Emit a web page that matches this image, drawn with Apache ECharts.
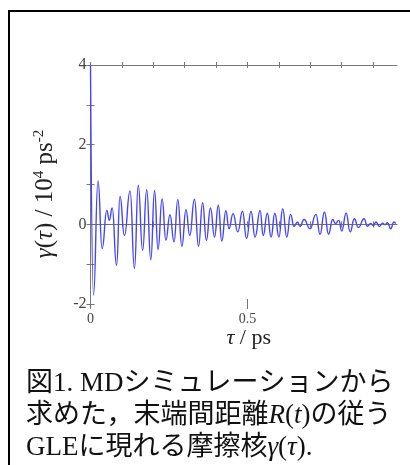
<!DOCTYPE html>
<html><head><meta charset="utf-8">
<script src="https://cdn.jsdelivr.net/npm/echarts@6/dist/echarts.min.js"></script>
<style>html,body{margin:0;padding:0;background:#fff}#c{width:410px;height:465px}</style>
</head><body><div id="c"></div>
<script>
// τ (ps) and γ(τ) (10^4 ps^-2) (extrema)
const tau = [0, 0.0095, 0.024, 0.037, 0.052, 0.06, 0.069, 0.083, 0.094, 0.108, 0.126, 0.14, 0.152, 0.166, 0.179, 0.192, 0.204, 0.215, 0.228, 0.24, 0.253, 0.266, 0.278, 0.291, 0.304, 0.316, 0.331, 0.344, 0.357, 0.369, 0.382, 0.395, 0.407, 0.418, 0.431, 0.441, 0.454, 0.469, 0.484, 0.497, 0.511, 0.524, 0.54, 0.55, 0.563, 0.575, 0.587, 0.6, 0.612, 0.625, 0.637, 0.648, 0.659, 0.667, 0.68, 0.699, 0.718, 0.731, 0.745, 0.758, 0.771, 0.78, 0.791, 0.80, 0.814, 0.827, 0.84, 0.853, 0.871, 0.882, 0.892, 0.901, 0.909, 0.92, 0.93, 0.938, 0.946, 0.956, 0.966, 0.972];
const gamma = [4.0, -1.78, 1.09, -0.61, 0.35, 0.10, 0.41, -1.03, 0.70, -0.28, 0.84, -1.11, 0.98, -0.65, 0.87, -0.89, 0.85, -0.63, 0.64, -0.40, 0.24, -0.44, 0.62, -0.55, 0.37, -0.28, 0.63, -0.55, 0.54, -0.40, 0.41, -0.32, 0.48, -0.42, 0.34, -0.11, 0.27, -0.19, 0.33, -0.36, 0.33, -0.32, 0.35, -0.28, 0.28, -0.32, 0.28, -0.32, 0.39, -0.32, 0.25, -0.05, 0.06, -0.05, 0.12, -0.11, 0.25, -0.25, 0.31, -0.25, 0.12, 0.02, 0.10, -0.17, 0.28, -0.19, 0.14, -0.08, 0.14, -0.05, 0.02, -0.03, 0.06, -0.05, 0.03, -0.01, 0.04, -0.11, 0.06, 0.02];
const xTicks = [0, 0.1, 0.2, 0.3, 0.4, 0.5, 0.6, 0.7, 0.8, 0.9];
const xMajorTicks = [0, 0.5];
const xLabels = [0, 0.5];
const yTicks = [-2, -1, 0, 1, 2, 3, 4];
const yLabels = [-2, 0, 2, 4];
const captionLines = [
  '図1. MDシミュレーションから',
  '求めた，末端間距離{i|R}({i|t})の従う',
  'GLEに現れる摩擦核{i|γ}({i|τ}).'
];

const serif = '"Liberation Serif","DejaVu Serif",serif';
const capFont = '"Liberation Serif","Noto Sans CJK JP",serif';
const axisCol = '#777';
const labCol = '#444';

const chart = echarts.init(document.getElementById('c'), null, {renderer: 'canvas'});
const data = tau.map((t, i) => [t, gamma[i]]);

const xBase = {type: 'value', min: 0, max: 0.976, splitLine: {show: false}};
const yBase = {type: 'value', min: -2, max: 4, interval: 1, splitLine: {show: false}};
const tickX = (pos, inside, len, vals, line) => Object.assign({}, xBase, {
  position: pos,
  axisLine: line ? {lineStyle: {color: axisCol, width: 1}} : {show: false},
  axisTick: {inside: inside, length: len, customValues: vals, lineStyle: {color: axisCol}},
  axisLabel: {show: false}
});

chart.setOption({
  animation: false,
  grid: {left: 90.5, right: 13, top: 65, bottom: 161},
  xAxis: [
    Object.assign({}, xBase, {position: 'bottom',
      axisLine: {lineStyle: {color: axisCol, width: 1}},
      axisTick: {inside: false, length: 3, customValues: xTicks, lineStyle: {color: axisCol}},
      axisLabel: {customValues: xLabels, color: labCol, fontFamily: serif, fontSize: 14, margin: 8},
      name: '{i|τ} / ps', nameLocation: 'middle', nameGap: 23, nameMoveOverlap: false,
      nameTextStyle: {fontFamily: serif, fontSize: 22, color: '#222', padding: [0, 0, 0, 10],
        rich: {i: {fontFamily: serif, fontStyle: 'italic', fontSize: 22, color: '#222'}}}}),
    tickX('bottom', true, 3, xTicks, false),
    tickX('bottom', true, 5, xMajorTicks, false),
    tickX('bottom', false, 5, xMajorTicks, false),
    tickX('top', false, 3, xTicks, true),
    tickX('top', true, 3, xTicks, false)
  ],
  yAxis: [
    Object.assign({}, yBase, {position: 'left',
      axisLine: {lineStyle: {color: axisCol, width: 1}},
      axisTick: {inside: false, length: 4, customValues: yTicks, lineStyle: {color: axisCol}},
      axisLabel: {customValues: yLabels, color: labCol, fontFamily: serif, fontSize: 16, margin: 4}}),
    Object.assign({}, yBase, {position: 'left',
      axisLine: {show: false},
      axisTick: {inside: true, length: 4, customValues: yTicks, lineStyle: {color: axisCol}},
      axisLabel: {show: false}})
  ],
  graphic: [
    {type: 'polyline', shape: {points: [[9, 465], [9, 11], [410, 11]]},
     style: {stroke: '#000', lineWidth: 2, fill: null}, silent: true},
    {type: 'text', x: 45.5, y: 194, rotation: Math.PI / 2, silent: true,
     style: {text: '{i|γ}({i|τ}) / 10{sup|4} ps{sup|-2}', font: '25px ' + serif, fill: '#222',
       align: 'center', verticalAlign: 'middle',
       rich: {i: {fontFamily: serif, fontStyle: 'italic', fontSize: 25, fill: '#222'},
              sup: {fontFamily: serif, fontSize: 15, fill: '#222', padding: [0, 0, 12, 0]}}}},
    ...captionLines.map((s, i) => ({
      type: 'text', left: 26, top: 370 + i * 32, silent: true,
      style: {text: s, font: '27px ' + capFont, fill: '#111',
        rich: {i: {fontFamily: serif, fontStyle: 'italic', fontSize: 27, fill: '#111'}}}
    }))
  ],
  series: [{
    type: 'line', xAxisIndex: 0, yAxisIndex: 0, data: data,
    showSymbol: false, smooth: 0.5, smoothMonotone: 'x',
    lineStyle: {color: '#4444fa', width: 1.4},
    markLine: {silent: true, symbol: ['none', 'none'], label: {show: false},
      lineStyle: {color: '#666', type: [4, 3], width: 1},
      data: [{yAxis: 0}]}
  }]
});
</script></body></html>
